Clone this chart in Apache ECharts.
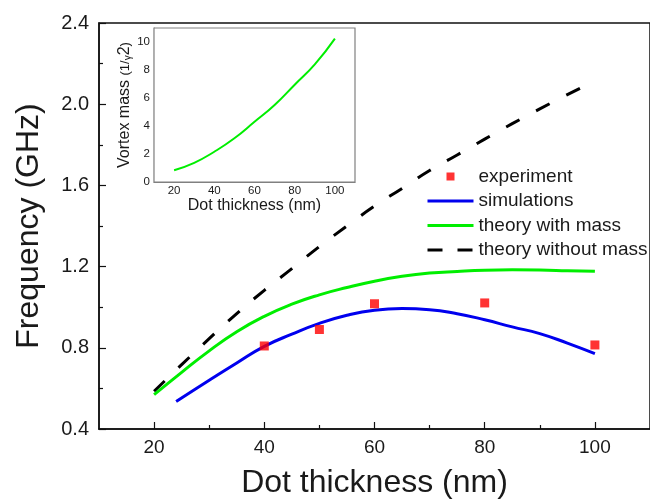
<!DOCTYPE html>
<html>
<head>
<meta charset="utf-8">
<script src="https://cdn.jsdelivr.net/npm/echarts@6/dist/echarts.min.js"></script>
<style>html,body{margin:0;padding:0;background:#fff}#c{width:650px;height:504px}</style>
</head>
<body>
<div id="c"></div>
<script>
// ---- data ----
var expX = [40, 50, 60, 80, 100];
var expY = [0.809, 0.890, 1.017, 1.021, 0.814];

var simX = [24, 30, 35, 40, 45, 50, 55, 60, 65, 70, 75, 80, 85, 90, 95, 100];
var simY = [0.535, 0.640, 0.725, 0.807, 0.867, 0.920, 0.960, 0.985, 0.993, 0.988, 0.968, 0.938, 0.903, 0.870, 0.823, 0.771];

var massThX = [20, 25, 30, 35, 40, 45, 50, 55, 60, 65, 70, 75, 80, 85, 90, 95, 100];
var massThY = [0.569, 0.679, 0.785, 0.879, 0.955, 1.015, 1.061, 1.097, 1.128, 1.152, 1.168, 1.176, 1.182, 1.184, 1.183, 1.180, 1.177];

var noMassX = [20, 25, 30, 35, 40, 45, 50, 55, 60, 65, 70, 75, 80, 85, 90, 95, 100];
var noMassY = [0.586, 0.717, 0.845, 0.968, 1.083, 1.190, 1.299, 1.400, 1.498, 1.585, 1.673, 1.750, 1.828, 1.904, 1.977, 2.047, 2.115];

var insetX = [20, 30, 40, 50, 60, 70, 80, 90, 100];
var insetY = [0.84, 1.37, 2.16, 3.12, 4.30, 5.50, 6.95, 8.40, 10.24];

var xTickLabels = [20, 40, 60, 80, 100];
var xMinorTicks = [30, 50, 70, 90];
var yTickLabels = [0.4, 0.8, 1.2, 1.6, 2.0, 2.4];

function pairs(xs, ys) { return xs.map(function (x, i) { return [x, ys[i]]; }); }

var FONT = '"Liberation Sans", Arial, sans-serif';
var TXT = '#1a1a1a';

var chart = echarts.init(document.getElementById('c'), null, { renderer: 'canvas' });

var option = {
  animation: false,
  backgroundColor: '#fff',
  textStyle: { fontFamily: FONT, color: TXT },
  grid: [
    { left: 99, top: 23, width: 551, height: 411, show: true, borderColor: '#111', borderWidth: 1.5, backgroundColor: 'transparent', z: 0 },
    { left: 154, top: 28, width: 201, height: 154, show: true, borderColor: '#808080', borderWidth: 1.2, backgroundColor: '#fff', z: 5 }
  ],
  legend: {
    orient: 'vertical',
    left: 426, top: 167,
    padding: 0,
    itemWidth: 46, itemHeight: 8, itemGap: 5.5,
    textStyle: { fontFamily: FONT, fontSize: 19, color: TXT },
    data: [
      { name: 'experiment', icon: 'path://M0,0L10,0L10,10L0,10Z' },
      { name: 'simulations', itemStyle: { opacity: 0 }, lineStyle: { width: 3 } },
      { name: 'theory with mass', itemStyle: { opacity: 0 }, lineStyle: { width: 3 } },
      { name: 'theory without mass', itemStyle: { opacity: 0 }, lineStyle: { width: 3, type: [15, 15] } }
    ]
  },
  xAxis: [
    {
      gridIndex: 0, type: 'value', min: 10, max: 110, interval: 10, position: 'bottom',
      name: 'Dot thickness (nm)', nameLocation: 'middle', nameGap: 38,
      nameTextStyle: { fontFamily: FONT, fontSize: 32, color: TXT },
      axisLine: { show: true, lineStyle: { color: '#111', width: 1.5 } },
      axisTick: { show: true, inside: true, length: 7, customValues: xTickLabels, lineStyle: { color: '#111', width: 1.2 } },
      axisLabel: { show: true, margin: 9, fontSize: 19, fontFamily: FONT, color: TXT, customValues: xTickLabels },
      splitLine: { show: false }
    },
    {
      gridIndex: 0, type: 'value', min: 10, max: 110, interval: 10, position: 'bottom',
      axisLine: { show: false },
      axisTick: { show: true, inside: true, length: 4, customValues: xMinorTicks, lineStyle: { color: '#111', width: 1.2 } },
      axisLabel: { show: false },
      splitLine: { show: false }
    },
    {
      gridIndex: 1, type: 'value', min: 10, max: 110, interval: 10, position: 'bottom',
      name: 'Dot thickness (nm)', nameLocation: 'middle', nameGap: 16,
      nameTextStyle: { fontFamily: FONT, fontSize: 16, color: TXT },
      axisLine: { show: true, lineStyle: { color: '#808080', width: 1.2 } },
      axisTick: { show: true, inside: true, length: 4, customValues: xTickLabels, lineStyle: { color: '#808080', width: 1 } },
      axisLabel: { show: true, margin: 3, fontSize: 11.5, fontFamily: FONT, color: TXT, customValues: xTickLabels },
      splitLine: { show: false }
    },
    {
      gridIndex: 1, type: 'value', min: 10, max: 110, interval: 10, position: 'bottom',
      axisLine: { show: false },
      axisTick: { show: true, inside: true, length: 2, customValues: xMinorTicks, lineStyle: { color: '#808080', width: 1 } },
      axisLabel: { show: false },
      splitLine: { show: false }
    }
  ],
  yAxis: [
    {
      gridIndex: 0, type: 'value', min: 0.4, max: 2.4, interval: 0.4,
      name: 'Frequency (GHz)', nameLocation: 'middle', nameGap: 54,
      nameTextStyle: { fontFamily: FONT, fontSize: 32, color: TXT },
      axisLine: { show: true, lineStyle: { color: '#111', width: 1.5 } },
      axisTick: { show: true, inside: true, length: 7, lineStyle: { color: '#111', width: 1.2 } },
      minorTick: { show: true, splitNumber: 2, length: 4, lineStyle: { color: '#111', width: 1.2 } },
      axisLabel: { show: true, margin: 10, fontSize: 20, fontFamily: FONT, color: TXT,
        formatter: function (v) { return v.toFixed(1); } },
      splitLine: { show: false }
    },
    {
      gridIndex: 1, type: 'value', min: 0, max: 11, interval: 2,
      name: '{a|Vortex mass }{b|(1/}{c|γ}{d|2}{b|)}', nameLocation: 'middle', nameGap: 21,
      nameTextStyle: { fontFamily: FONT, fontSize: 16, color: TXT,
        rich: {
          a: { fontFamily: FONT, fontSize: 16, color: TXT },
          b: { fontFamily: FONT, fontSize: 13, color: TXT },
          c: { fontFamily: FONT, fontSize: 10, color: TXT, verticalAlign: 'bottom' },
          d: { fontFamily: FONT, fontSize: 16, color: TXT }
        } },
      axisLine: { show: true, lineStyle: { color: '#808080', width: 1.2 } },
      axisTick: { show: true, inside: true, length: 4, lineStyle: { color: '#808080', width: 1 } },
      minorTick: { show: true, splitNumber: 2, length: 2, lineStyle: { color: '#808080', width: 1 } },
      axisLabel: { show: true, margin: 4, fontSize: 11.5, fontFamily: FONT, color: TXT, showMaxLabel: false },
      splitLine: { show: false }
    }
  ],
  series: [
    {
      name: 'theory without mass', type: 'line', xAxisIndex: 0, yAxisIndex: 0,
      data: pairs(noMassX, noMassY), symbol: 'none', smooth: true,
      lineStyle: { color: '#000', width: 3, type: [15, 19] }, itemStyle: { color: '#000' }, z: 2
    },
    {
      name: 'theory with mass', type: 'line', xAxisIndex: 0, yAxisIndex: 0,
      data: pairs(massThX, massThY), symbol: 'none', smooth: true,
      lineStyle: { color: '#00ee00', width: 3 }, itemStyle: { color: '#00ee00' }, z: 2
    },
    {
      name: 'simulations', type: 'line', xAxisIndex: 0, yAxisIndex: 0,
      data: pairs(simX, simY), symbol: 'none', smooth: true,
      lineStyle: { color: '#0000ee', width: 3 }, itemStyle: { color: '#0000ee' }, z: 2
    },
    {
      name: 'experiment', type: 'scatter', xAxisIndex: 0, yAxisIndex: 0,
      data: pairs(expX, expY), symbol: 'rect', symbolSize: 9,
      itemStyle: { color: '#ff0000' }, z: 3
    },
    {
      name: 'vortex mass', type: 'line', xAxisIndex: 2, yAxisIndex: 1,
      data: pairs(insetX, insetY), symbol: 'none', smooth: true,
      lineStyle: { color: '#00ee00', width: 2 }, z: 6
    }
  ]
};
chart.setOption(option);
</script>
</body>
</html>
